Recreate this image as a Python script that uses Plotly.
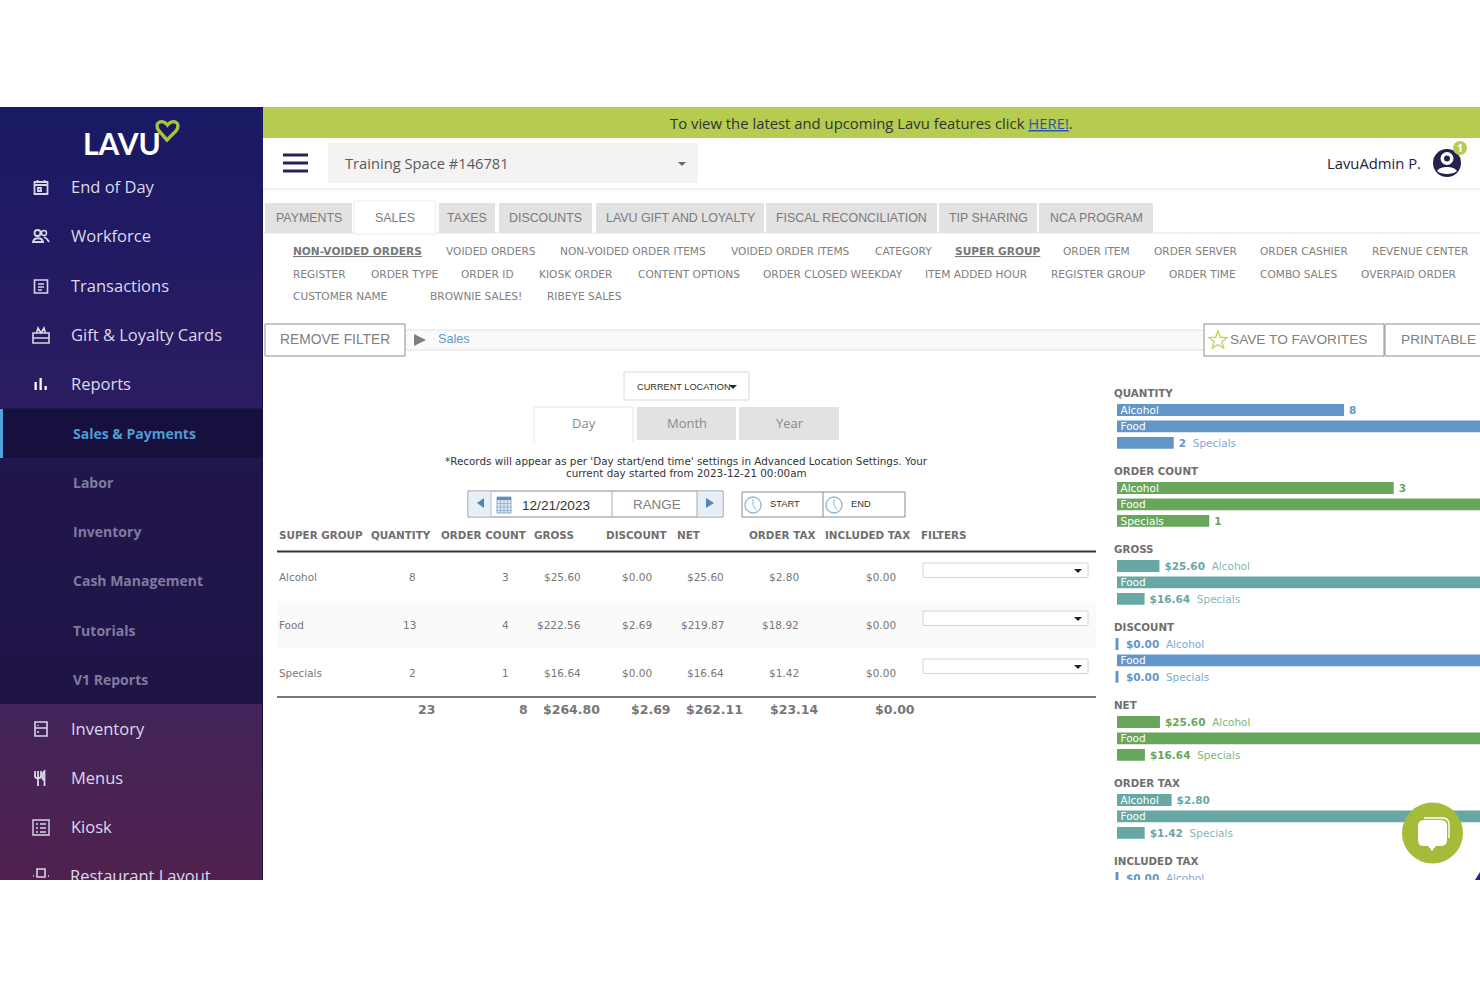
import math
import plotly.graph_objects as go

# ---------- data ----------
CATEGORIES = ["Alcohol", "Food", "Specials"]
QUANTITY = [8, 13, 2]
ORDER_COUNT = [3, 4, 1]
GROSS = [25.60, 222.56, 16.64]
DISCOUNT = [0.00, 2.69, 0.00]
NET = [25.60, 219.87, 16.64]
ORDER_TAX = [2.80, 18.92, 1.42]
INCLUDED_TAX = [0.00, 0.00, 0.00]
TOTALS = ["23", "8", "$264.80", "$2.69", "$262.11", "$23.14", "$0.00"]
HEADERS = ["SUPER GROUP", "QUANTITY", "ORDER COUNT", "GROSS", "DISCOUNT", "NET", "ORDER TAX", "INCLUDED TAX", "FILTERS"]
TOP_TABS = ["PAYMENTS", "SALES", "TAXES", "DISCOUNTS", "LAVU GIFT AND LOYALTY", "FISCAL RECONCILIATION", "TIP SHARING", "NCA PROGRAM"]
SUB_ROW1 = ["NON-VOIDED ORDERS", "VOIDED ORDERS", "NON-VOIDED ORDER ITEMS", "VOIDED ORDER ITEMS", "CATEGORY", "SUPER GROUP", "ORDER ITEM", "ORDER SERVER", "ORDER CASHIER", "REVENUE CENTER"]
SUB_ROW2 = ["REGISTER", "ORDER TYPE", "ORDER ID", "KIOSK ORDER", "CONTENT OPTIONS", "ORDER CLOSED WEEKDAY", "ITEM ADDED HOUR", "REGISTER GROUP", "ORDER TIME", "COMBO SALES", "OVERPAID ORDER"]
SUB_ROW3 = ["CUSTOMER NAME", "BROWNIE SALES!", "RIBEYE SALES"]
MENU_MAIN = ["End of Day", "Workforce", "Transactions", "Gift & Loyalty Cards", "Reports"]
MENU_SUB = ["Sales & Payments", "Labor", "Inventory", "Cash Management", "Tutorials", "V1 Reports"]
MENU_LOWER = ["Inventory", "Menus", "Kiosk", "Restaurant Layout"]

# ---------- layout constants ----------
W, H = 1480, 987
SANS = "DejaVu Sans"
HELV = "Liberation Sans"
OPEN = "Open Sans"
BLUE, GREEN, TEAL = "#6396c8", "#68a65c", "#67a8a5"
BLUE_L, GREEN_L, TEAL_L = "#7fa9d3", "#82b578", "#82b8b6"
LIME = "#a4bc3a"

shapes, annots = [], []


def R(x0, y0, x1, y1, fill=None, line=None, lw=1, layer="below"):
    shapes.append(dict(type="rect", xref="x", yref="y", x0=x0, y0=y0, x1=x1, y1=y1,
                       fillcolor=fill or "rgba(0,0,0,0)",
                       line=dict(color=line or "rgba(0,0,0,0)", width=lw if line else 0), layer=layer))


def C(cx, cy, r, fill=None, line=None, lw=1, layer="above"):
    shapes.append(dict(type="circle", xref="x", yref="y", x0=cx - r, y0=cy - r, x1=cx + r, y1=cy + r,
                       fillcolor=fill or "rgba(0,0,0,0)",
                       line=dict(color=line or "rgba(0,0,0,0)", width=lw if line else 0), layer=layer))


def P(path, fill=None, line=None, lw=1, layer="above"):
    shapes.append(dict(type="path", xref="x", yref="y", path=path,
                       fillcolor=fill or "rgba(0,0,0,0)",
                       line=dict(color=line or "rgba(0,0,0,0)", width=lw if line else 0), layer=layer))


def L(x0, y0, x1, y1, color, lw=1, layer="below"):
    shapes.append(dict(type="line", xref="x", yref="y", x0=x0, y0=y0, x1=x1, y1=y1,
                       line=dict(color=color, width=lw), layer=layer))


def T(x, y, text, size=11, color="#777777", font=SANS, anchor="left"):
    nudge = {"left": -1, "right": 1, "center": 0}[anchor]
    annots.append(dict(xref="x", yref="y", x=x + nudge, y=y - 0.4, text=text, showarrow=False, xanchor=anchor,
                       yanchor="middle", borderpad=0, font=dict(family=font, size=size, color=color)))


def mix(a, b, t):
    return "rgb(%d,%d,%d)" % tuple(round(a[i] + (b[i] - a[i]) * t) for i in range(3))


def bands(y0, y1, a, b, step=6):
    y = y0
    while y < y1:
        y2 = min(y + step, y1)
        R(0, y, 263, y2, fill=mix(a, b, (y - y0) / (y1 - y0)))
        y = y2


# ---------- sidebar ----------
bands(107, 408, (25, 25, 100), (44, 28, 96))
bands(408, 704, (33, 22, 78), (32, 20, 70))
bands(704, 880, (66, 36, 90), (80, 33, 78))
R(0, 409, 263, 458, fill="#16103f")
R(0, 409, 3, 458, fill="#4fa3d8")
L(262.5, 188, 262.5, 880, "#15153a", 1)

T(122, 143, "<b>LAVU</b>", 30, "#ffffff", "Lato", "center")
P("M167 140 L159 131 C153 123 162 118 167.5 125 C173 118 182 123 176 131 Z", line="#a9c23f", lw=3.4)

for text, y in zip(MENU_MAIN, [187, 236, 285.5, 335, 384]):
    T(71, y, text, 16.5, "#dcd9ea", OPEN)
for i, (text, y) in enumerate(zip(MENU_SUB, [433.5, 483, 532, 581, 630.5, 680])):
    T(73, y, "<b>%s</b>" % text, 14, "#4f9bd2" if i == 0 else "#7f7b9e", OPEN)
for text, y in zip(MENU_LOWER[:3], [729, 778, 827]):
    T(71, y, text, 16.5, "#dcd9ea", OPEN)

ICON = "#d8d5e6"
P("M34.5 182 H47.5 V194 H34.5 Z M34.5 185 H47.5 M37.5 180 V183 M44.5 180 V183 M38 188 H41 V191 H38 Z", line=ICON, lw=1.8)
C(37.5, 233, 3, line=ICON, lw=1.8); C(44, 233, 2.5, line=ICON, lw=1.5)
P("M33 242 C34 237 42 237 43 242 Z M44 237 C47 238 48 240 49 242", line=ICON, lw=1.8)
P("M34.5 280 H47.5 V293 H34.5 Z M38 284 H44 M38 287 H44 M38 290 H42", line=ICON, lw=1.6)
P("M33 333 H49 V343 H33 Z M33 338 H49 M36.5 333 L38 328 L41 333 L44 328 L45.5 333", line=ICON, lw=1.6)
R(34.5, 382, 36.8, 390, fill="#ffffff", layer="above"); R(39.5, 378, 41.8, 390, fill="#ffffff", layer="above"); R(44.5, 386, 46.8, 390, fill="#ffffff", layer="above")
P("M35 722 H47 V736 H35 Z M35 728 H47 M38 725 V726 M38 731 V733", line=ICON, lw=1.6)
P("M35 771 V776 Q35 778 37 778 H39 Q41 778 41 776 V771 M38 771 V786 M44.5 786 V771 Q42.5 772 42.5 777 Q42.5 780 44.5 780", line=ICON, lw=1.8)
P("M33 820 H49 V835 H33 Z M36 824 H38 M40 824 H46 M36 828 H38 M40 828 H46 M36 832 H38 M40 832 H46", line=ICON, lw=1.4)
P("M37 869 H45 V877 H37 Z M33 876 H34 M48 876 H49", line=ICON, lw=1.6)

# ---------- top banner and header ----------
R(263, 107, 1480, 138, fill="#b5cc50")
T(871, 123, 'To view the latest and upcoming Lavu features click <span style="color:#2a55a8"><u>HERE!</u></span>.', 14.85, "#333333", OPEN, "center")
for i, c in enumerate(["#f1f1f1", "#f6f6f6", "#fafafa", "#fdfdfd"]):
    R(263, 188 + i, 1480, 189 + i, fill=c)
for y in (155, 163, 171):
    R(283, y - 1.5, 308, y + 1.5, fill="#26264a", layer="above")
R(328, 143, 698, 183, fill="#f3f3f3")
T(345, 163, "Training Space #146781", 14.7, "#5a5a5a", OPEN)
P("M678 162 H686 L682 166 Z", fill="#666666")
T(1421, 163, "LavuAdmin P.", 14.8, "#22223c", OPEN, "right")
C(1447, 163, 14, fill="#23224d")
C(1447, 158.5, 6.5, fill="#ffffff")
C(1447, 158.5, 3, fill="#23224d")
P("M1437 171 C1440 165.5 1454 165.5 1457 171 C1453 175 1441 175 1437 171 Z", fill="#ffffff")
C(1460, 148, 7, fill="#b5cc50")
T(1460, 148, "<b>1</b>", 10.5, "#ffffff", OPEN, "center")

# ---------- report tabs ----------
tab_x = [(265, 352), (354, 435), (439, 495), (499, 592), (596, 764), (766, 937), (939, 1037), (1039, 1153)]
L(263, 233, 1480, 233, "#e6e6e6")
for i, (name, (a, b)) in enumerate(zip(TOP_TABS, tab_x)):
    if name == "SALES":
        R(a, 201, b, 234, fill="#ffffff", line="#ececec")
    else:
        R(a, 203, b, 233, fill="#e2e2e2")
    T((a + b) / 2, 218.5, name, 12.4, "#7b7b7b", HELV, "center")

row1_x = [293, 446, 560, 731, 875, 955, 1063, 1154, 1260, 1372]
row2_x = [293, 371, 461, 539, 638, 763, 925, 1051, 1169, 1260, 1361]
row3_x = [293, 430, 547]
for names, xs, y in ((SUB_ROW1, row1_x, 251), (SUB_ROW2, row2_x, 274), (SUB_ROW3, row3_x, 296.4)):
    for n, x in zip(names, xs):
        if n in ("NON-VOIDED ORDERS", "SUPER GROUP"):
            T(x, y, "<b><u>%s</u></b>" % n, 10.6, "#777777")
        else:
            T(x, y, n, 10.6, "#808080")

# ---------- breadcrumb ----------
R(405, 330, 1205, 350, fill="#fafafa", line="#e2e2e2")
R(265, 324, 405, 356, fill="#ffffff", line="#8f8f8f")
T(335, 340, "REMOVE FILTER", 13.8, "#808080", HELV, "center")
P("M414 334 L426 340 L414 346 Z", fill="#7f7f7f")
T(438, 339, "Sales", 12.6, "#5a9bd2", HELV)
R(1204, 324, 1384, 356, fill="#ffffff", line="#8f8f8f")
R(1385, 324, 1490, 356, fill="#ffffff", line="#8f8f8f")
star = []
for k in range(10):
    r = 9.5 if k % 2 == 0 else 4
    a = -math.pi / 2 + k * math.pi / 5
    star.append("%s%.1f %.1f" % ("M" if k == 0 else "L", 1218 + r * math.cos(a), 340.5 + r * math.sin(a)))
P(" ".join(star) + " Z", line="#c3d45e", lw=1.4)
T(1230, 340, "SAVE TO FAVORITES", 13.7, "#808080", HELV)
T(1401, 340, "PRINTABLE", 13.7, "#808080", HELV)

# ---------- filter controls ----------
R(624, 372, 749, 400, fill="#ffffff", line="#d8d8d8")
T(637, 387, "CURRENT LOCATION", 9.2, "#333333", HELV)
P("M729 385 H737 L733 389 Z", fill="#222222")
R(534, 407, 633, 442, fill="#ffffff", line="#e4e4e4")
R(535, 438, 632, 444, fill="#ffffff")
R(637, 407, 736, 440, fill="#e2e2e2")
R(739, 407, 839, 440, fill="#e2e2e2")
for name, x in (("Day", 584), ("Month", 686.5), ("Year", 789.5)):
    T(x, 423.5, name, 13, "#8a8a8a", OPEN, "center")
T(686.5, 461, "*Records will appear as per 'Day start/end time' settings in Advanced Location Settings. Your", 10.37, "#333333", SANS, "center")
T(686.5, 473, "current day started from 2023-12-21 00:00am", 10.37, "#333333", SANS, "center")

R(468, 491, 723, 517, fill="#ffffff", line="#8a8a8a")
R(468.5, 491.5, 491, 516.5, fill="#e6eff7")
R(697, 491.5, 722.5, 516.5, fill="#e6eff7")
L(491, 491, 491, 517, "#bbbbbb"); L(612, 491, 612, 517, "#aaaaaa"); L(697, 491, 697, 517, "#aaaaaa")
P("M484 498 V508 L477 503 Z", fill="#4f88b8")
P("M706 498 V508 L714 503 Z", fill="#4f88b8")
R(497, 497, 511, 513, fill="#dce7f2", line="#8aa8c8")
R(497, 497, 511, 500, fill="#5f8fb8")
for gx in (500.5, 504, 507.5):
    L(gx, 500, gx, 513, "#9db8d2")
for gy in (503.5, 507, 510.5):
    L(497, gy, 511, gy, "#9db8d2")
T(522, 505.4, "12/21/2023", 13.6, "#333333", HELV)
T(656.5, 504.4, "RANGE", 13.4, "#808080", HELV, "center")
R(742, 492, 905, 517, fill="#ffffff", line="#8a8a8a")
L(823, 492, 823, 517, "#8a8a8a")
for cx in (753, 834):
    C(cx, 505, 8, line="#8db7d8", lw=1.3)
    P("M%d 499 V505 L%d 510" % (cx, cx + 3), line="#8db7d8", lw=1)
T(785, 504.5, "START", 9.3, "#333333", HELV, "center")
T(861, 504.5, "END", 9.3, "#333333", HELV, "center")

# ---------- table ----------
header_x = [279, 371, 441, 534, 606, 677, 749, 825, 921]
for n, x in zip(HEADERS, header_x):
    T(x, 535.4, "<b>%s</b>" % n, 10.4, "#6f6f6f")
L(277, 551.5, 1096, 551.5, "#333333", 2)
R(277, 601, 1096, 648, fill="#fafafa")
row_y = [577, 625, 673]
col_right = [415.5, 509, 581, 652, 723.5, 799, 896]


def int_s(v):
    return "%d" % v


def usd(v):
    return "$%.2f" % v


columns = [(QUANTITY, int_s), (ORDER_COUNT, int_s), (GROSS, usd), (DISCOUNT, usd), (NET, usd), (ORDER_TAX, usd), (INCLUDED_TAX, usd)]
for r, (cat, y) in enumerate(zip(CATEGORIES, row_y)):
    T(279, y, cat, 10.4, "#777777")
    for (vals, fmt), xr in zip(columns, col_right):
        T(xr, y, fmt(vals[r]), 10.5, "#777777", SANS, "right")
    R(923, y - 14, 1088, y + 0.5, fill="#ffffff", line="#d4d4d4")
    P("M1074 %d H1082 L1078 %d Z" % (y - 8, y - 4), fill="#222222")
L(277, 697, 1096, 697, "#777777", 2)
total_right = [435, 528, 600, 671, 743, 819, 915]
for t, xr in zip(TOTALS, total_right):
    T(xr, 709.5, "<b>%s</b>" % t, 12.5, "#777777", SANS, "right")

# ---------- right-hand bar panels ----------
fig = go.Figure()
fig.add_trace(go.Scatter(x=[0], y=[0], mode="markers", marker=dict(opacity=0), hoverinfo="skip", showlegend=False))

panels = [
    ("QUANTITY", QUANTITY, int_s, BLUE, BLUE_L),
    ("ORDER COUNT", ORDER_COUNT, int_s, GREEN, GREEN_L),
    ("GROSS", GROSS, usd, TEAL, TEAL_L),
    ("DISCOUNT", DISCOUNT, usd, BLUE, BLUE_L),
    ("NET", NET, usd, GREEN, GREEN_L),
    ("ORDER TAX", ORDER_TAX, usd, TEAL, TEAL_L),
    ("INCLUDED TAX", INCLUDED_TAX, usd, BLUE, BLUE_L),
]
BAR_LEFT, AX_LEFT, MAX_PX, PITCH, RANGE_PX = 1117, 1108, 369, 16.4, 49.2
axes_layout = {}
for i, (title, vals, fmt, col, col_l) in enumerate(panels):
    T(1114, 393.5 + 78 * i, "<b>%s</b>" % title, 10.3, "#6f6f6f")
    ax = i + 2
    xid, yid = "x%d" % ax, "y%d" % ax
    top = 401.8 + 78 * i
    bottom = min(top + RANGE_PX, 880)
    peak = max(vals) or 1
    u = peak / MAX_PX  # data units per pixel
    y_bottom = -0.5 + (bottom - top) / PITCH
    axes_layout["xaxis%d" % ax] = dict(domain=[AX_LEFT / W, 1], range=[(AX_LEFT - BAR_LEFT) * u, (W - BAR_LEFT) * u],
                                       visible=False, anchor=yid, fixedrange=True)
    axes_layout["yaxis%d" % ax] = dict(domain=[(H - bottom) / H, (H - top) / H], range=[y_bottom, -0.5], type="linear",
                                       visible=False, anchor=xid, fixedrange=True)
    ypos = list(range(len(CATEGORIES)))
    widths = [3 if v == 0 else 0 for v in vals]
    fig.add_trace(go.Bar(x=vals, y=ypos, orientation="h", width=0.72, xaxis=xid, yaxis=yid, showlegend=False,
                         marker=dict(color=col, line=dict(color=col, width=widths)), hoverinfo="skip"))
    tx, ty, tt = [], [], []
    for r, (cat, v) in enumerate(zip(CATEGORIES, vals)):
        px = v / u
        inside = 7.2 * len(cat) <= px
        if inside:
            tx.append(3.5 * u); ty.append(r + 0.07); tt.append('<span style="color:#ffffff">%s</span>' % cat)
        end = px if v > 0 else 4
        if px < MAX_PX - 5:
            val = '<b><span style="color:%s">%s</span></b>' % (col, fmt(v))
            cat_s = "" if inside else '\u00a0\u00a0<span style="color:%s">%s</span>' % (col_l, cat)
            tx.append((end + 5) * u); ty.append(r + 0.07); tt.append(val + cat_s)
    fig.add_trace(go.Scatter(x=tx, y=ty, text=tt, mode="text", textposition="middle right", xaxis=xid, yaxis=yid,
                             textfont=dict(family=SANS, size=10.5), hoverinfo="skip", showlegend=False, cliponaxis=True))

# sidebar line that is cut by the bottom edge of the screenshot
axes_layout["xaxis9"] = dict(domain=[0, 263 / W], range=[0, 263], visible=False, anchor="y9", fixedrange=True)
axes_layout["yaxis9"] = dict(domain=[(H - 880) / H, (H - 107) / H], range=[880, 107], visible=False, anchor="x9", fixedrange=True)
fig.add_trace(go.Scatter(x=[70], y=[878], text=[MENU_LOWER[3]], mode="text", textposition="middle right", xaxis="x9", yaxis="y9",
                         textfont=dict(family=OPEN, size=16.5, color="#dcd9ea"), hoverinfo="skip", showlegend=False, cliponaxis=True))

# ---------- chat bubble, screen edges ----------
C(1432.5, 833, 30.5, fill=LIME)
P("M1418 826 Q1418 820 1424 820 H1441 Q1447 820 1447 826 V840 Q1447 846 1441 846 H1436 L1432 851 L1428 846 H1424 Q1418 846 1418 840 Z", fill="#ffffff")
P("M1424 818 H1443 Q1449 818 1449 825 V838", line="#ffffff", lw=1.4)
P("M1475 880 L1480 872 V880 Z", fill="#2a2090")
R(0, 880, W, H, fill="#ffffff", layer="above")

fig.update_layout(
    width=W, height=H, autosize=False, margin=dict(l=0, r=0, t=0, b=0),
    paper_bgcolor="#ffffff", plot_bgcolor="rgba(0,0,0,0)", showlegend=False, barmode="overlay",
    xaxis=dict(domain=[0, 1], range=[0, W], visible=False, fixedrange=True),
    yaxis=dict(domain=[0, 1], range=[H, 0], visible=False, fixedrange=True),
    shapes=shapes, annotations=annots, **axes_layout,
)
fig.write_html("out.html", config=dict(displayModeBar=False),
               post_script="document.body.style.margin='0';document.body.style.overflow='hidden';")
